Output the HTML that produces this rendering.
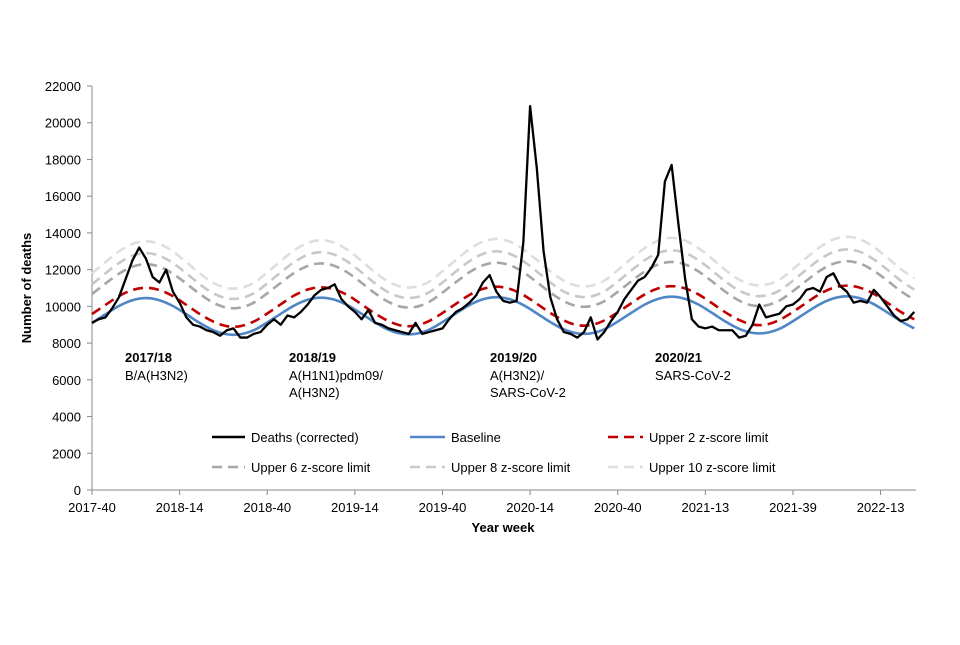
<!DOCTYPE html>
<html><head><meta charset="utf-8"><style>
body{margin:0;background:#fff}
svg text{font-family:"Liberation Sans",Arial,sans-serif;font-size:13px;fill:#000}
</style></head><body>
<svg id="chart" width="960" height="640" viewBox="0 0 960 640">
<g id="axes"></g>
<g id="series"></g>
<g>
<text x="125" y="362" font-weight="bold">2017/18</text>
<text x="125" y="380">B/A(H3N2)</text>
<text x="289" y="362" font-weight="bold">2018/19</text>
<text x="289" y="380">A(H1N1)pdm09/</text>
<text x="289" y="397">A(H3N2)</text>
<text x="490" y="362" font-weight="bold">2019/20</text>
<text x="490" y="380">A(H3N2)/</text>
<text x="490" y="397">SARS-CoV-2</text>
<text x="655" y="362" font-weight="bold">2020/21</text>
<text x="655" y="380">SARS-CoV-2</text>
</g>
<g>
<line x1="212" y1="437" x2="245" y2="437" stroke="#000" stroke-width="2.5"/>
<text x="251" y="442">Deaths (corrected)</text>
<line x1="410" y1="437" x2="445" y2="437" stroke="#4f86c6" stroke-width="2.5"/>
<text x="451" y="442">Baseline</text>
<line x1="608" y1="437" x2="643" y2="437" stroke="#c00000" stroke-width="2.5" stroke-dasharray="10 6"/>
<text x="649" y="442">Upper 2 z-score limit</text>
<line x1="212" y1="467" x2="245" y2="467" stroke="#a6a6a6" stroke-width="2.5" stroke-dasharray="10 6"/>
<text x="251" y="472">Upper 6 z-score limit</text>
<line x1="410" y1="467" x2="445" y2="467" stroke="#c8c8c8" stroke-width="2.5" stroke-dasharray="10 6"/>
<text x="451" y="472">Upper 8 z-score limit</text>
<line x1="608" y1="467" x2="643" y2="467" stroke="#dedede" stroke-width="2.5" stroke-dasharray="10 6"/>
<text x="649" y="472">Upper 10 z-score limit</text>
</g>
<text x="503" y="532" text-anchor="middle" font-weight="bold">Year week</text>
<text transform="translate(31,288) rotate(-90)" text-anchor="middle" font-weight="bold">Number of deaths</text>
</svg>
<script>
const xTickLabels=["2017-40","2018-14","2018-40","2019-14","2019-40","2020-14","2020-40","2021-13","2021-39","2022-13"];
const yTicks=[0,2000,4000,6000,8000,10000,12000,14000,16000,18000,20000,22000];
// deaths every 2 weeks starting 2017-40
const deaths=[9100,9300,9400,9900,10500,11500,12500,13200,12600,11600,11300,12000,10800,10200,9400,9000,8900,8700,8600,8400,8700,8800,8300,8300,8500,8600,9000,9300,9000,9500,9400,9700,10100,10600,10900,11000,11200,10400,10000,9700,9300,9800,9100,9000,8800,8700,8600,8500,9100,8500,8600,8700,8800,9300,9700,9900,10200,10600,11300,11700,10800,10300,10200,10300,13500,20900,17500,13000,10500,9300,8600,8500,8300,8600,9400,8200,8600,9200,9700,10400,10900,11400,11600,12100,12800,16800,17700,14500,11500,9300,8900,8800,8900,8700,8700,8700,8300,8400,9000,10100,9400,9500,9600,10000,10100,10400,10900,11000,10800,11600,11800,11100,10800,10200,10300,10200,10900,10500,10000,9500,9200,9300,9700];
// limits every 4 weeks
const baseline=[9095,9570,10020,10335,10450,10335,10020,9570,9095,8700,8480,8480,8700,9120,9595,10045,10360,10475,10360,10045,9595,9120,8725,8505,8505,8725,9145,9620,10070,10385,10500,10385,10070,9620,9145,8750,8530,8530,8750,9170,9645,10095,10410,10525,10410,10095,9645,9170,8775,8555,8555,8775,9195,9670,10120,10435,10550,10435,10120,9670,9195,8800];
const upper2=[9580,10080,10560,10890,11010,10890,10560,10080,9580,9170,8920,8920,9170,9610,10110,10590,10920,11040,10920,10590,10110,9610,9200,8950,8950,9200,9640,10140,10620,10950,11070,10950,10620,10140,9640,9230,8980,8980,9230,9670,10170,10650,10980,11100,10980,10650,10170,9670,9260,9010,9010,9260,9700,10200,10680,11010,11130,11010,10680,10200,9700,9290];
const upper6=[10670,11240,11780,12160,12300,12160,11780,11240,10670,10200,9930,9930,10200,10710,11280,11820,12200,12340,12200,11820,11280,10710,10240,9970,9970,10240,10750,11320,11860,12240,12380,12240,11860,11320,10750,10280,10010,10010,10280,10790,11360,11900,12280,12420,12280,11900,11360,10790,10320,10050,10050,10320,10830,11400,11940,12320,12460,12320,11940,11400,10830,10360];
const upper8=[11200,11800,12360,12760,12900,12760,12360,11800,11200,10710,10440,10440,10710,11250,11850,12410,12810,12950,12810,12410,11850,11250,10760,10490,10490,10760,11300,11900,12460,12860,13000,12860,12460,11900,11300,10810,10540,10540,10810,11350,11950,12510,12910,13050,12910,12510,11950,11350,10860,10590,10590,10860,11400,12000,12560,12960,13100,12960,12560,12000,11400,10910];
const upper10=[11790,12410,12990,13400,13550,13400,12990,12410,11790,11280,11000,11000,11280,11850,12470,13050,13460,13610,13460,13050,12470,11850,11340,11060,11060,11340,11910,12530,13110,13520,13670,13520,13110,12530,11910,11400,11120,11120,11400,11970,12590,13170,13580,13730,13580,13170,12590,11970,11460,11180,11180,11460,12030,12650,13230,13640,13790,13640,13230,12650,12030,11520];

const NS="http://www.w3.org/2000/svg";
const X0=92,PXW=3.37,Y0=490,YMAX=22000,YTOP=86;
const xw=w=>X0+w*PXW;
const yv=v=>Y0-(v/YMAX)*(Y0-YTOP);
function mk(t,a,p){const e=document.createElementNS(NS,t);for(const k in a)e.setAttribute(k,a[k]);p.appendChild(e);return e;}
const axes=document.getElementById('axes'),series=document.getElementById('series');
const yax=mk('line',{x1:X0,y1:YTOP,x2:X0,y2:Y0,stroke:'#888','stroke-width':1},axes);


const xax=mk('line',{x1:X0,y1:Y0,x2:916,y2:Y0,stroke:'#888','stroke-width':1},axes);


yTicks.forEach(v=>{
  mk('line',{x1:X0-5,y1:yv(v),x2:X0,y2:yv(v),stroke:'#888'},axes);
  const t=mk('text',{x:X0-11,y:yv(v)+5,'text-anchor':'end'},axes);t.textContent=v;
  
  
});
xTickLabels.forEach((l,i)=>{
  const x=xw(i*26);
  mk('line',{x1:x,y1:Y0,x2:x,y2:Y0+5,stroke:'#888'},axes);
  const t=mk('text',{x:x,y:Y0+22,'text-anchor':'middle'},axes);t.textContent=l;
  
  
});
function smooth(pts){let d=`M${pts[0][0]},${pts[0][1]}`;for(let i=0;i<pts.length-1;i++){const p0=pts[Math.max(0,i-1)],p1=pts[i],p2=pts[i+1],p3=pts[Math.min(pts.length-1,i+2)];d+=`C${p1[0]+(p2[0]-p0[0])/6},${p1[1]+(p2[1]-p0[1])/6} ${p2[0]-(p3[0]-p1[0])/6},${p2[1]-(p3[1]-p1[1])/6} ${p2[0]},${p2[1]}`;}return d;}
function curve(arr,step,color,dash,name){
  const pts=arr.map((v,i)=>[xw(i*step),yv(v)]);
  const p=mk('path',{d:smooth(pts),fill:'none',stroke:color,'stroke-width':2.6},series);
  if(dash)p.setAttribute('stroke-dasharray',dash);
  
  
}
curve(upper10,4,'#dedede','10 6','upper-10-line');
curve(upper8,4,'#c8c8c8','10 6','upper-8-line');
curve(upper6,4,'#a6a6a6','10 6','upper-6-line');
curve(upper2,4,'#c00000','10 6','upper-2-line');
curve(baseline,4,'#4f86c6',null,'baseline-line');
const dl=mk('polyline',{points:deaths.map((v,i)=>xw(i*2)+','+yv(v)).join(' '),fill:'none',stroke:'#000','stroke-width':2.3,'stroke-linejoin':'round'},series);


</script>
</body></html>
